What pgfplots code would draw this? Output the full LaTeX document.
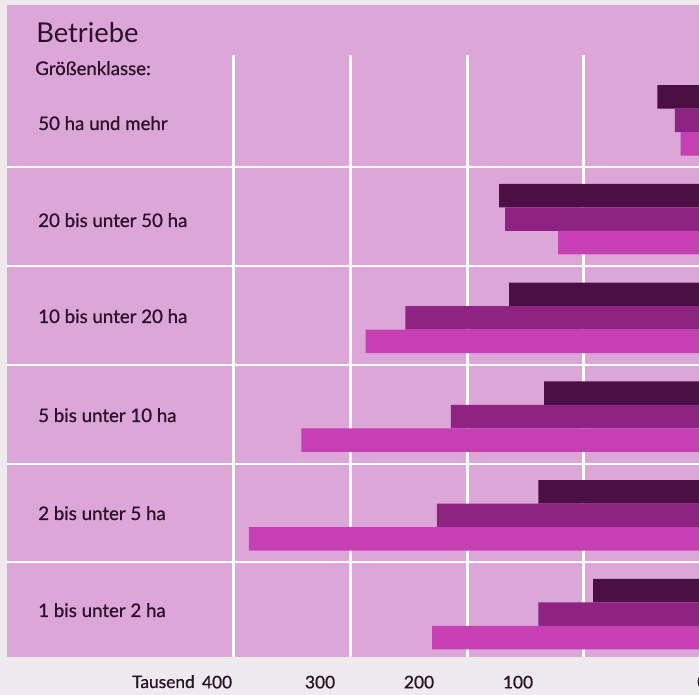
\documentclass[border=0pt]{standalone}
\usepackage{pgfplots}
\pgfplotsset{compat=1.18}
\usepackage{pgfplotstable}
\usepackage{fontspec}
\setmainfont{Lato}
\newfontfamily\medfont[FakeBold=0.8]{Lato}
\definecolor{outbg}{HTML}{EEEAEE}
\definecolor{pinkbg}{HTML}{DCA6D9}
\definecolor{cdark}{HTML}{4B0F45}
\definecolor{cmid}{HTML}{8E2383}
\definecolor{clight}{HTML}{C640B4}
\definecolor{txt}{HTML}{2A1028}
% group 0 = 50 ha und mehr ... group 5 = 1 bis unter 2 ha (Tausend Betriebe)
\pgfplotstableread{
g dark mid light
0 37 22 17
1 172.5 167.5 122
2 164 253 287
3 134 214 342
4 139 226 387
5 92 139 230
}\data
\begin{document}
\begin{tikzpicture}[x=0.75pt,y=0.75pt]
\fill[outbg] (0,0) rectangle (699,695);
\begin{axis}[
  at={(5.25pt,28.5pt)}, anchor=south west,
  scale only axis, width=519pt, height=489pt,
  x dir=reverse, y dir=reverse,
  xmin=1.3, xmax=594.3, ymin=5, ymax=657,
  axis line style={draw=none},
  axis background/.style={fill=pinkbg},
  ytick=\empty,
  xtick={414.3,326,241.2,156.4},
  xticklabels={400,300,200,100},
  major tick length=0pt,
  xticklabel style={font=\medfont\fontsize{13}{15}\selectfont, text=txt, anchor=base, yshift=-23.5pt},
  /pgf/number format/assume math mode=true,
  xbar, bar shift=0pt, bar width=23.5,
]
\foreach \v in {100,200,300,400}{
  \edef\tmp{\noexpand\draw[white, line width=2.2pt] (axis cs:\v,55) -- (axis cs:\v,657);}\tmp
}
\foreach \s in {167,266,365,464,562}{
  \edef\tmp{\noexpand\draw[white, line width=2.2pt] (axis cs:1.3,\s) -- (axis cs:594.3,\s);}\tmp
}
\addplot[fill=cdark, draw=none] table[x=dark, y expr={68.3+98.75*\thisrow{g}+28.5}] {\data};
\addplot[fill=cmid, draw=none] table[x=mid, y expr={68.3+98.75*\thisrow{g}+52}] {\data};
\addplot[fill=clight, draw=none] table[x=light, y expr={68.3+98.75*\thisrow{g}+75.5}] {\data};
\end{axis}
\begin{scope}[every node/.style={text=txt, inner sep=0pt}]
\node[anchor=base west, font=\fontsize{20.5}{22}\selectfont] at (36,652) {Betriebe};
\node[anchor=base west, font=\medfont\fontsize{14}{16}\selectfont] at (35,620) {Größenklasse:};
\node[anchor=base west, font=\medfont\fontsize{14}{16}\selectfont] at (38,695-130) {50 ha und mehr};
\node[anchor=base west, font=\medfont\fontsize{14}{16}\selectfont] at (38,695-227) {20 bis unter 50 ha};
\node[anchor=base west, font=\medfont\fontsize{14}{16}\selectfont] at (38,695-323) {10 bis unter 20 ha};
\node[anchor=base west, font=\medfont\fontsize{14}{16}\selectfont] at (38,695-422) {5 bis unter 10 ha};
\node[anchor=base west, font=\medfont\fontsize{14}{16}\selectfont] at (38,695-520) {2 bis unter 5 ha};
\node[anchor=base west, font=\medfont\fontsize{14}{16}\selectfont] at (38,695-617) {1 bis unter 2 ha};
\node[anchor=base east, font=\medfont\fontsize{13}{15}\selectfont] at (195,695-688) {Tausend};
\node[anchor=base west, font=\medfont\fontsize{13}{15}\selectfont] at (697,695-688) {0};
\end{scope}
\pgfresetboundingbox
\path[use as bounding box] (0,0) rectangle (699,695);
\end{tikzpicture}
\end{document}
